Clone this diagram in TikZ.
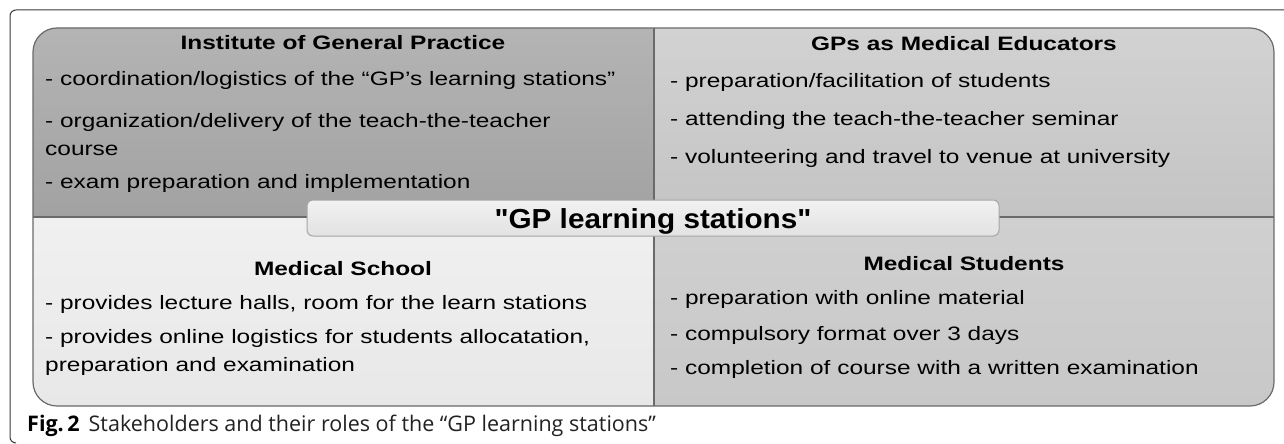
\documentclass[tikz,border=0pt]{standalone}
\usepackage{fontspec}
\setmainfont{Liberation Sans}[FakeStretch=1.26]
\newfontfamily\bannerfont{Liberation Sans}[FakeStretch=1.08]
\newfontfamily\capfont{Open Sans}
\definecolor{tlTop}{HTML}{B4B4B4}
\definecolor{tlBot}{HTML}{A2A2A2}
\definecolor{trTop}{HTML}{D2D2D2}
\definecolor{trBot}{HTML}{C4C4C4}
\definecolor{blTop}{HTML}{F0F0F0}
\definecolor{blBot}{HTML}{E8E8E8}
\definecolor{brTop}{HTML}{D0D0D0}
\definecolor{brBot}{HTML}{C8C8C8}
\definecolor{bnTop}{HTML}{F2F2F2}
\definecolor{bnBot}{HTML}{E2E2E2}
\definecolor{edge}{HTML}{6A6A6A}
\definecolor{frame}{HTML}{3A3A3A}
\definecolor{captxt}{HTML}{222222}
\tikzset{
  body/.style={inner sep=0pt, anchor=base west, font=\fontsize{19.4}{23}\selectfont, text=black},
  head/.style={inner sep=0pt, anchor=base, font=\fontsize{19.4}{23}\selectfont\bfseries, text=black},
  banner/.style={inner sep=0pt, anchor=base, font=\bannerfont\fontsize{27.5}{30}\selectfont\bfseries, text=black},
  panelline/.style={draw=edge, line width=1.2pt},
}
\begin{document}
\begin{tikzpicture}[x=1pt,y=-1pt]
\useasboundingbox (0,0) rectangle (1284,444);
% outer frame
\draw[frame, line width=1pt, rounded corners=6] (1284,10) -- (10,10) -- (10,443) -- (16,443);
% panels
\begin{scope}
\clip[rounded corners=24] (33,28) rectangle (1274,406);
\shade[top color=tlTop, bottom color=tlBot] (33,28) rectangle (654,217);
\shade[top color=trTop, bottom color=trBot] (654,28) rectangle (1274,217);
\shade[top color=blTop, bottom color=blBot] (33,217) rectangle (654,406);
\shade[top color=brTop, bottom color=brBot] (654,217) rectangle (1274,406);
\end{scope}
\draw[panelline, rounded corners=24] (33,28) rectangle (1274,406);
\coordinate (vt) at (654,28);
\coordinate (vb) at (654,406);
\coordinate (hl) at (33,217);
\coordinate (hr) at (1274,217);
\draw[panelline] (vt) -- (vb);
\draw[panelline] (hl) -- (hr);
% banner
\node[draw=edge!60, line width=1pt, rounded corners=6, top color=bnTop, bottom color=bnBot,
      minimum width=692pt, minimum height=36pt, inner sep=0pt] (ban) at (653,218) {};
\node[banner] (bantext) at (653,228) {\symbol{34}GP learning stations\symbol{34}};
% top-left
\node[head] (tlh) at (343,49) {Institute of General Practice};
\node[body] (tl1) at (45,85) {- coordination/logistics of the “GP’s learning stations”};
\node[body] (tl2) at (45,127) {- organization/delivery of the teach-the-teacher};
\node[body] (tl2b) at (45,155) {course};
\node[body] (tl3) at (45,188) {- exam preparation and implementation};
% top-right
\node[head] (trh) at (964,51) {GPs as Medical Educators};
\node[body] (tr1) at (670,88) {- preparation/facilitation of students};
\node[body] (tr2) at (670,125) {- attending the teach-the-teacher seminar};
\node[body] (tr3) at (670,163) {- volunteering and travel to venue at university};
% bottom-left
\node[head] (blh) at (343,275) {Medical School};
\node[body] (bl1) at (45,309) {- provides lecture halls, room for the learn stations};
\node[body] (bl2) at (45,343) {- provides online logistics for students allocatation,};
\node[body] (bl2b) at (45,371) {preparation and examination};
% bottom-right
\node[head] (brh) at (964,270) {Medical Students};
\node[body] (br1) at (670,304) {- preparation with online material};
\node[body] (br2) at (670,340) {- compulsory format over 3 days};
\node[body] (br3) at (670,374) {- completion of course with a written examination};
% caption
\node[inner sep=0pt, anchor=base west, font=\capfont\fontsize{21.5}{23}\selectfont, text=captxt] (cap) at (27,431)
  {{\bfseries\color{black}Fig.\,2}\hspace{9pt}Stakeholders and their roles of the “GP learning stations”};
\end{tikzpicture}
\end{document}
